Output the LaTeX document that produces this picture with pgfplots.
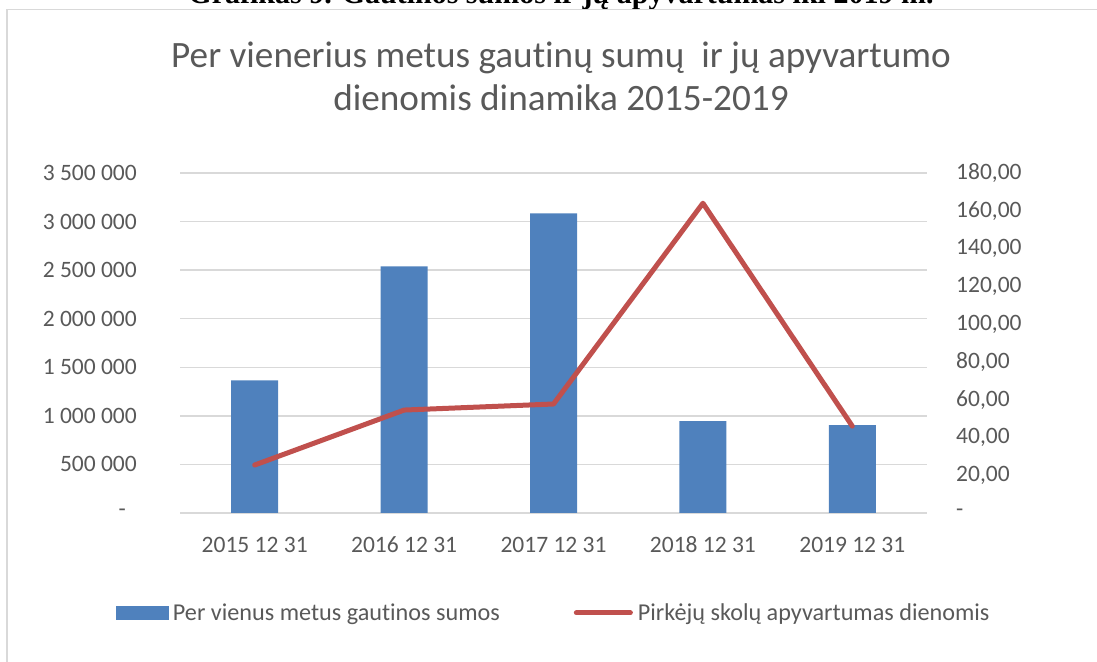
\documentclass[border=0pt]{standalone}
\usepackage{fontspec}
\setmainfont{Carlito}[Ligatures=NoCommon]
\newfontfamily\capfont{Liberation Serif}
\usepackage{pgfplots}
\pgfplotsset{compat=1.18}
\definecolor{barblue}{HTML}{4F81BD}
\definecolor{linered}{HTML}{C0504D}
\definecolor{gridgray}{HTML}{D9D9D9}
\definecolor{txtgray}{HTML}{595959}
\pgfplotsset{
  barlegend/.style={legend image code/.code={\fill[barblue] (0pt,-6.5pt) rectangle (52pt,6.5pt);}},
  linelegend/.style={legend image code/.code={\draw[##1] (0pt,0pt) -- (54pt,0pt);}},
}
\begin{document}
\begin{tikzpicture}[x=1pt,y=1pt]
\useasboundingbox (0,0) rectangle (1097,661);
\clip (0,0) rectangle (1097,661);
\node[font=\capfont\bfseries\fontsize{30}{34}\selectfont, anchor=base, inner sep=0pt] at (561,657) {Grafikas 9. Gautinos sumos ir jų apyvartumas iki 2019 m.};
\draw[gridgray, line width=1.5pt] (7,-5) rectangle (1110,651.5);
\node[font=\fontsize{37.2}{43}\selectfont, text=txtgray, anchor=base, inner sep=0pt] at (561,593) {Per vienerius metus gautinų sumų\ \ ir jų apyvartumo};
\node[font=\fontsize{37.2}{43}\selectfont, text=txtgray, anchor=base, inner sep=0pt] at (561,550) {dienomis dinamika 2015-2019};
\begin{axis}[
  at={(180pt,148pt)}, anchor=south west,
  width=747pt, height=340pt, scale only axis,
  xmin=-0.5, xmax=4.5, ymin=0, ymax=3500000,
  ybar, bar width=47pt,
  xtick={0,1,2,3,4},
  xticklabels={2015 12 31,2016 12 31,2017 12 31,2018 12 31,2019 12 31},
  ytick={0,500000,1000000,1500000,2000000,2500000,3000000,3500000},
  yticklabels={{-\kern11pt},{500 000},{1 000 000},{1 500 000},{2 000 000},{2 500 000},{3 000 000},{3 500 000}},
  scaled y ticks=false,
  ymajorgrids, grid style={gridgray, line width=1.3pt},
  axis line style={draw=none}, major tick length=0pt,
  tick label style={font=\fontsize{23.5}{28}\selectfont, text=txtgray},
  yticklabel style={anchor=east, inner sep=0pt, xshift=-43pt},
  xticklabel style={anchor=base, inner sep=0pt, yshift=-40pt},
]
\addplot[fill=barblue, draw=none] coordinates {(0,1365000) (1,2540000) (2,3085000) (3,945000) (4,905000)};
\end{axis}
\begin{axis}[
  at={(180pt,148pt)}, anchor=south west,
  width=747pt, height=340pt, scale only axis,
  xmin=-0.5, xmax=4.5, ymin=0, ymax=180,
  hide x axis,
  axis y line*=right,
  ytick={0,20,40,60,80,100,120,140,160,180},
  yticklabels={{-},{20,00},{40,00},{60,00},{80,00},{100,00},{120,00},{140,00},{160,00},{180,00}},
  yticklabel pos=right,
  axis line style={draw=none}, major tick length=0pt,
  tick label style={font=\fontsize{23.5}{28}\selectfont, text=txtgray},
  yticklabel style={anchor=west, inner sep=0pt, xshift=29pt},
  legend columns=2,
  legend style={at={(0.5,-0.294)}, anchor=center, draw=none, fill=none,
    font=\fontsize{24.2}{28}\selectfont, text=txtgray,
    /tikz/every even column/.append style={column sep=72pt},
    /tikz/every odd column/.append style={column sep=3pt}},
  legend cell align=left,
]
\addlegendimage{barlegend}
\addlegendentry{Per vienus metus gautinos sumos}
\addplot[linered, line width=5pt, line cap=round, line join=round, linelegend]
  coordinates {(0,25.4) (1,54.5) (2,57.7) (3,164) (4,46)};
\addlegendentry{Pirkėjų skolų apyvartumas dienomis}
\end{axis}
\end{tikzpicture}
\end{document}
